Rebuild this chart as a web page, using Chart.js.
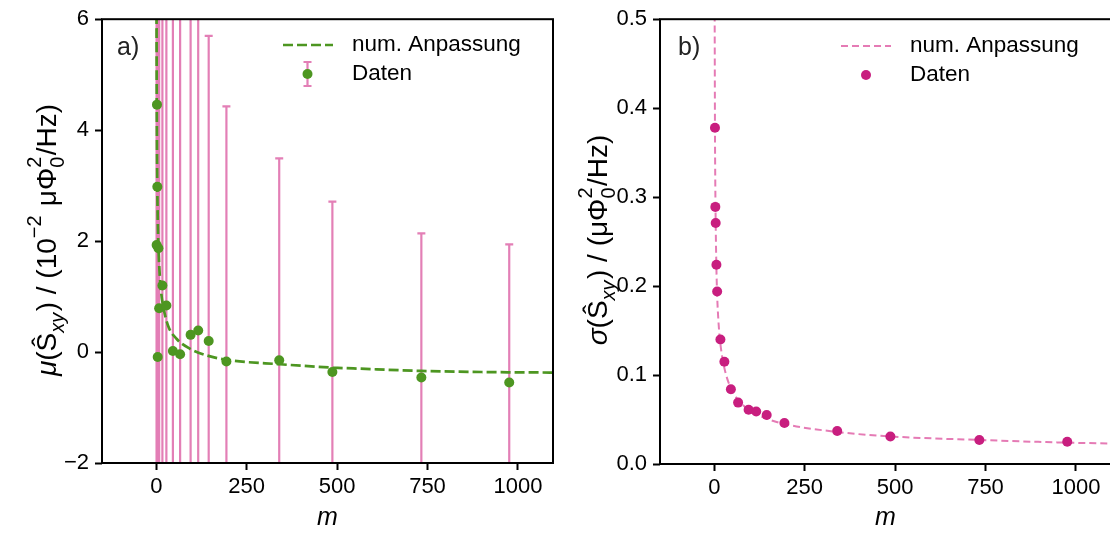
<!DOCTYPE html>
<html><head><meta charset="utf-8">
<script src="https://cdn.jsdelivr.net/npm/chart.js@4.4.1/dist/chart.umd.min.js"></script>
<style>
html,body{margin:0;padding:0;background:#fff;overflow:hidden;width:1110px;height:536px;position:relative}
#wa{position:absolute;left:0;top:0;width:560px;height:536px}
#wb{position:absolute;left:560px;top:0;width:560px;height:536px}
</style></head><body>
<div id="wa"><canvas id="ca" width="560" height="536"></canvas></div>
<div id="wb"><canvas id="cb" width="560" height="536"></canvas></div>
<script>
// ---- data ----
const mValues     = [1, 2, 3, 4, 6, 8, 17, 28, 46, 66, 95, 116, 145, 194, 340, 487, 733, 976];
const muValues    = [1.93, 4.46, 2.98, -0.09, 1.87, 0.79, 1.20, 0.84, 0.02, -0.04, 0.31, 0.39, 0.20, -0.17, -0.15, -0.36, -0.46, -0.55];
const muErrors    = [53, 37.8, 28.9, 27.1, 22.4, 19.4, 14.0, 11.5, 8.4, 6.9, 6.1, 5.9, 5.50, 4.60, 3.64, 3.07, 2.60, 2.49];
const sigmaValues = [0.53, 0.378, 0.289, 0.271, 0.224, 0.194, 0.140, 0.115, 0.084, 0.069, 0.061, 0.059, 0.055, 0.046, 0.037, 0.031, 0.027, 0.025];

const fitMuM       = [0.7, 1, 2, 3, 4, 6, 10, 14, 19, 33, 56, 93, 139, 194, 342, 488, 563, 732, 900, 1100];
const fitMuValues  = [6.6, 5.5, 3.7, 2.9, 2.45, 1.9, 1.35, 1.05, 0.83, 0.47, 0.24, 0.06, -0.06, -0.14, -0.22, -0.28, -0.30, -0.34, -0.36, -0.37];
const fitSigmaM      = [1, 2, 3, 4, 6, 8, 12, 17, 28, 46, 66, 95, 145, 194, 340, 487, 733, 976, 1100];
const fitSigmaValues = [0.53, 0.375, 0.31, 0.27, 0.22, 0.19, 0.158, 0.135, 0.108, 0.085, 0.072, 0.061, 0.051, 0.045, 0.036, 0.031, 0.027, 0.024, 0.023];

const xTickValues     = [0, 250, 500, 750, 1000];
const muTickValues    = [-2, 0, 2, 4, 6];
const sigmaTickValues = [0, 0.1, 0.2, 0.3, 0.4, 0.5];

const legendLabels = ['num. Anpassung', 'Daten'];
const panelLabels  = ['a)', 'b)'];

// ---- styles ----
const FONT = '"Liberation Sans", Arial, Helvetica, sans-serif';
const GREEN = '#4d9621';
const PINK_ERR = '#e37fb6';
const MAGENTA = '#c81e7f';
const PINK_LINE = '#e57bb5';

function zip(xs, ys){ return xs.map((x,i)=>({x:x, y:ys[i]})); }

function drawRich(ctx, pieces, cx, cy, F){
  ctx.save();
  ctx.translate(cx, cy);
  ctx.rotate(-Math.PI/2);
  ctx.textBaseline = 'alphabetic';
  ctx.fillStyle = '#000';
  const setFont = (p, small)=>{
    ctx.font = (p.it ? 'italic ' : '') + (small ? Math.round(F*0.7) : F) + 'px ' + FONT;
  };
  const widthOf = p=>{
    if (p.stack){ setFont({}, true); return Math.max(ctx.measureText(p.stack[0]).width, ctx.measureText(p.stack[1]).width) + F*0.05; }
    setFont(p, p.sub||p.sup); return ctx.measureText(p.t).width + (p.sub||p.sup ? F*0.05 : 0);
  };
  const ws = pieces.map(widthOf);
  const total = ws.reduce((a,b)=>a+b,0);
  let x = -total/2;
  pieces.forEach((p,i)=>{
    if (p.stack){
      setFont({}, true);
      ctx.fillText(p.stack[0], x, F*0.28);
      ctx.fillText(p.stack[1], x, -F*0.52);
    } else {
      setFont(p, p.sub||p.sup);
      const dy = p.sub ? F*0.28 : (p.sup ? -F*0.52 : 0);
      ctx.fillText(p.t, x, dy);
    }
    x += ws[i];
  });
  ctx.restore();
}

function framePlugin(label, labelDx, legendDraw, titlePieces, titleX){
  return {
    id: 'deco',
    afterDraw(chart){
      const ctx = chart.ctx, a = chart.chartArea;
      ctx.save();
      ctx.strokeStyle = '#000'; ctx.lineWidth = 2;
      ctx.strokeRect(a.left, a.top, a.right - a.left, a.bottom - a.top);
      ctx.font = '25px ' + FONT; ctx.fillStyle = '#222'; ctx.textBaseline = 'middle'; ctx.textAlign = 'left';
      ctx.fillText(label, a.left + labelDx, a.top + 29);
      legendDraw(ctx, chart);
      ctx.restore();
      drawRich(ctx, titlePieces, titleX, 240, 28);
    }
  };
}

function baseScales(yMin, yMax, yTicks, yFmt, yWidth, xHeight){
  return {
    x: {
      type: 'linear', min: -150, max: 1097,
      border: {display: false},
      grid: {display: true, drawOnChartArea: false, drawTicks: true, tickLength: 7, tickColor: '#000', tickWidth: 2},
      ticks: {color: '#000', font: {family: FONT, size: 22}, padding: 4, maxRotation: 0, callback: v => String(v)},
      afterBuildTicks: s => { s.ticks = xTickValues.map(v => ({value: v})); },
      afterFit: s => { s.height = xHeight; },
      title: {display: true, text: 'm', color: '#000', font: {family: FONT, size: 25, style: 'italic'}, padding: {top: 0, bottom: 3}}
    },
    y: {
      type: 'linear', min: yMin, max: yMax,
      border: {display: false},
      grid: {display: true, drawOnChartArea: false, drawTicks: true, tickLength: 7, tickColor: '#000', tickWidth: 2},
      ticks: {color: '#000', font: {family: FONT, size: 22}, padding: 6, callback: yFmt},
      afterBuildTicks: s => { s.ticks = yTicks.map(v => ({value: v})); },
      afterFit: s => { s.width = yWidth; }
    }
  };
}

// ---- panel a ----
const errorBarPlugin = {
  id: 'errbars',
  beforeDatasetsDraw(chart){
    const ctx = chart.ctx, a = chart.chartArea;
    const xs = chart.scales.x, ys = chart.scales.y;
    ctx.save();
    ctx.beginPath(); ctx.rect(a.left, a.top, a.right - a.left, a.bottom - a.top); ctx.clip();
    ctx.strokeStyle = PINK_ERR; ctx.lineWidth = 2.2;
    mValues.forEach((m,i)=>{
      const x = xs.getPixelForValue(m);
      const y1 = ys.getPixelForValue(muValues[i] - muErrors[i]);
      const y2 = ys.getPixelForValue(muValues[i] + muErrors[i]);
      ctx.beginPath();
      ctx.moveTo(x, y1); ctx.lineTo(x, y2);
      ctx.moveTo(x-4, y1); ctx.lineTo(x+4, y1);
      ctx.moveTo(x-4, y2); ctx.lineTo(x+4, y2);
      ctx.stroke();
    });
    ctx.restore();
  }
};

const legendA = (ctx)=>{
  ctx.save();
  ctx.strokeStyle = GREEN; ctx.lineWidth = 2.7; ctx.setLineDash([10,4]);
  ctx.beginPath(); ctx.moveTo(283, 45); ctx.lineTo(333, 45); ctx.stroke();
  ctx.setLineDash([]);
  ctx.strokeStyle = PINK_ERR; ctx.lineWidth = 2.2;
  ctx.beginPath();
  ctx.moveTo(307.5, 62); ctx.lineTo(307.5, 86);
  ctx.moveTo(303.5, 62); ctx.lineTo(311.5, 62);
  ctx.moveTo(303.5, 86); ctx.lineTo(311.5, 86);
  ctx.stroke();
  ctx.fillStyle = GREEN; ctx.beginPath(); ctx.arc(307.5, 74, 5, 0, Math.PI*2); ctx.fill();
  ctx.fillStyle = '#000'; ctx.font = '22.5px ' + FONT; ctx.textBaseline = 'middle'; ctx.textAlign = 'left';
  ctx.fillText(legendLabels[0], 352, 45);
  ctx.fillText(legendLabels[1], 352, 74);
  ctx.restore();
};

const titleA = [
  {t:'μ', it:true}, {t:'(Ŝ'}, {t:'xy', it:true, sub:true}, {t:') / (10'}, {t:'−2', sup:true},
  {t:' μΦ'}, {stack:['0','2']}, {t:'/Hz)'}
];

new Chart(document.getElementById('ca'), {
  type: 'scatter',
  data: {datasets: [
    {label: legendLabels[0], data: zip(fitMuM, fitMuValues), showLine: true, borderColor: GREEN, borderWidth: 2.7,
     borderDash: [10,4], pointRadius: 0, cubicInterpolationMode: 'monotone', order: 2},
    {label: legendLabels[1], data: zip(mValues, muValues), showLine: false, pointRadius: 5, pointBackgroundColor: GREEN,
     pointBorderWidth: 0, borderColor: GREEN, order: 1}
  ]},
  options: {
    responsive: false, animation: false, devicePixelRatio: 1,
    layout: {padding: {top: 13, right: 7, left: 0, bottom: 0}},
    plugins: {legend: {display: false}, tooltip: {enabled: false}},
    scales: baseScales(-2, 6, muTickValues, v => v < 0 ? '−' + Math.abs(v) : String(v), 102, 73)
  },
  plugins: [errorBarPlugin, framePlugin(panelLabels[0], 15, legendA, titleA, 56)]
});

// ---- panel b ----
const legendB = (ctx)=>{
  ctx.save();
  ctx.strokeStyle = PINK_LINE; ctx.lineWidth = 2; ctx.setLineDash([7,4]);
  ctx.beginPath(); ctx.moveTo(281, 46); ctx.lineTo(331, 46); ctx.stroke();
  ctx.setLineDash([]);
  ctx.fillStyle = MAGENTA; ctx.beginPath(); ctx.arc(306, 75, 5, 0, Math.PI*2); ctx.fill();
  ctx.fillStyle = '#000'; ctx.font = '22.5px ' + FONT; ctx.textBaseline = 'middle'; ctx.textAlign = 'left';
  ctx.fillText(legendLabels[0], 350, 46);
  ctx.fillText(legendLabels[1], 350, 75);
  ctx.restore();
};

const titleB = [
  {t:'σ', it:true}, {t:'(Ŝ'}, {t:'xy', it:true, sub:true}, {t:') / (μΦ'}, {stack:['0','2']}, {t:'/Hz)'}
];

new Chart(document.getElementById('cb'), {
  type: 'scatter',
  data: {datasets: [
    {label: legendLabels[0], data: zip(fitSigmaM, fitSigmaValues), showLine: true, borderColor: PINK_LINE, borderWidth: 2,
     borderDash: [7,4], pointRadius: 0, cubicInterpolationMode: 'monotone', order: 2},
    {label: legendLabels[1], data: zip(mValues, sigmaValues), showLine: false, pointRadius: 5, pointBackgroundColor: MAGENTA,
     pointBorderWidth: 0, borderColor: MAGENTA, order: 1}
  ]},
  options: {
    responsive: false, animation: false, devicePixelRatio: 1,
    layout: {padding: {top: 14, right: 9, left: 0, bottom: 0}},
    plugins: {legend: {display: false}, tooltip: {enabled: false}},
    scales: baseScales(0, 0.5, sigmaTickValues, v => Number(v).toFixed(1), 100, 72)
  },
  plugins: [framePlugin(panelLabels[1], 18, legendB, titleB, 47)]
});
</script>
</body></html>
